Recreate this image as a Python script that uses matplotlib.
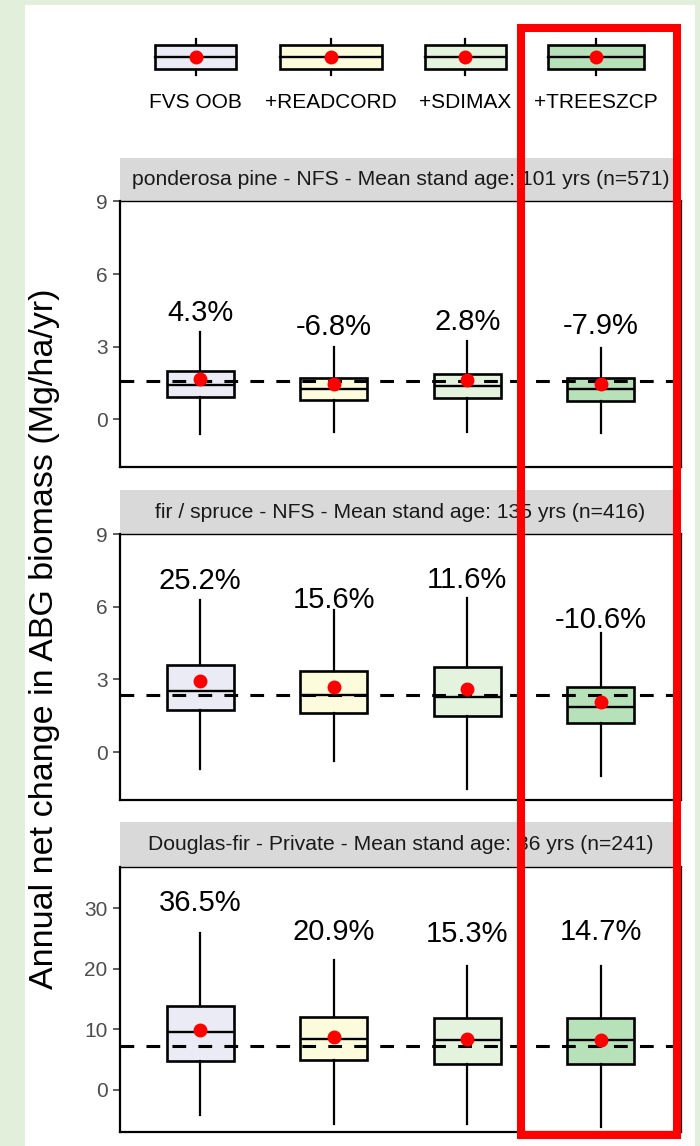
import matplotlib.pyplot as plt
from matplotlib.patches import Rectangle
from matplotlib.lines import Line2D

plt.rcParams['font.family'] = ['Liberation Sans', 'DejaVu Sans']

W, H = 700, 1146

# model runs and their fill colours
models = ['FVS OOB', '+READCORD', '+SDIMAX', '+TREESZCP']
fills = ['#EBEBF5', '#FCFCDD', '#E3F3DD', '#B7E1B8']

strip_titles = [
    'ponderosa pine - NFS - Mean stand age: 101 yrs (n=571)',
    'fir / spruce - NFS - Mean stand age: 135 yrs (n=416)',
    'Douglas-fir - Private - Mean stand age: 36 yrs (n=241)',
]

# panel 1: ponderosa pine
pp_whislo = [-0.61, -0.54, -0.54, -0.56]
pp_q1 = [0.92, 0.80, 0.88, 0.77]
pp_med = [1.43, 1.24, 1.38, 1.24]
pp_q3 = [2.01, 1.71, 1.87, 1.71]
pp_whishi = [3.60, 3.00, 3.25, 2.96]
pp_mean = [1.65, 1.47, 1.62, 1.45]
pp_obs = 1.58
pp_pct = ['4.3%', '-6.8%', '2.8%', '-7.9%']
pp_lab_y = [4.39, 3.81, 4.04, 3.86]

# panel 2: fir / spruce
fs_whislo = [-0.71, -0.37, -1.50, -0.98]
fs_q1 = [1.76, 1.61, 1.48, 1.19]
fs_med = [2.52, 2.34, 2.26, 1.88]
fs_q3 = [3.61, 3.34, 3.50, 2.68]
fs_whishi = [6.27, 5.85, 6.37, 4.90]
fs_mean = [2.93, 2.71, 2.61, 2.09]
fs_obs = 2.34
fs_pct = ['25.2%', '15.6%', '11.6%', '-10.6%']
fs_lab_y = [7.06, 6.28, 7.10, 5.45]

# panel 3: Douglas-fir
df_whislo = [-4.20, -5.55, -5.55, -6.05]
df_q1 = [4.70, 4.90, 4.30, 4.20]
df_med = [9.50, 8.46, 8.20, 8.20]
df_q3 = [13.9, 12.0, 11.9, 11.9]
df_whishi = [25.9, 21.4, 20.5, 20.5]
df_mean = [9.90, 8.77, 8.36, 8.32]
df_obs = 7.25
df_pct = ['36.5%', '20.9%', '15.3%', '14.7%']
df_lab_y = [30.8, 26.0, 25.8, 26.0]

panels = [
    (pp_whislo, pp_q1, pp_med, pp_q3, pp_whishi, pp_mean, pp_obs, pp_pct, pp_lab_y),
    (fs_whislo, fs_q1, fs_med, fs_q3, fs_whishi, fs_mean, fs_obs, fs_pct, fs_lab_y),
    (df_whislo, df_q1, df_med, df_q3, df_whishi, df_mean, df_obs, df_pct, df_lab_y),
]
yticks = [[0, 3, 6, 9], [0, 3, 6, 9], [0, 10, 20, 30]]
ylims = [(-1.97, 9.0), (-1.97, 8.97), (-6.95, 36.9)]

# pixel layout: (strip top, axes top, axes bottom)
rows = [(158, 201.5, 467), (490, 534, 800), (822, 866.5, 1132)]
ax_left, ax_right = 120, 681


def px_axes(x0, y0, x1, y1, **kw):
    return fig.add_axes([x0 / W, 1 - y1 / H, (x1 - x0) / W, (y1 - y0) / H], **kw)


fig = plt.figure(figsize=(W / 100, H / 100), dpi=100, facecolor='#E2EFDA')

# overlay for background and legend
ov = px_axes(0, 0, W, H)
ov.set_xlim(0, W)
ov.set_ylim(H, 0)
ov.axis('off')
ov.add_patch(Rectangle((25, 5), 670, H, facecolor='white', edgecolor='none', zorder=0))

for i, (whislo, q1, med, q3, whishi, mean, obs, pct, lab_y) in enumerate(panels):
    st, at, ab = rows[i]
    sax = px_axes(ax_left, st, ax_right, at)
    sax.set_facecolor('#D9D9D9')
    sax.set_xticks([])
    sax.set_yticks([])
    for s in sax.spines.values():
        s.set_visible(False)
    sax.text(0.5, 0.5, strip_titles[i], ha='center', va='center', fontsize=15.2,
             color='#1A1A1A', transform=sax.transAxes)

    ax = px_axes(ax_left, at, ax_right, ab)
    stats = []
    for k in range(len(models)):
        stats.append(dict(whislo=whislo[k], q1=q1[k], med=med[k], q3=q3[k],
                          whishi=whishi[k], mean=mean[k], fliers=[]))
    bp = ax.bxp(stats, positions=range(1, 5), widths=0.5, patch_artist=True,
                showcaps=False, showmeans=True,
                boxprops=dict(edgecolor='black', linewidth=1.9),
                whiskerprops=dict(color='black', linewidth=1.6),
                medianprops=dict(color='black', linewidth=1.7),
                meanprops=dict(marker='o', markerfacecolor='red', markeredgecolor='red',
                               markersize=9))
    for patch, c in zip(bp['boxes'], fills):
        patch.set_facecolor(c)
    for m in bp['means']:
        m.set_zorder(5)
    ax.axhline(obs, color='black', linewidth=2.2, dashes=(4.5, 4), zorder=4)
    for k in range(len(models)):
        ax.text(k + 1, lab_y[k], pct[k], ha='center', va='center', fontsize=21,
                color='black')
    ax.set_xlim(0.4, 4.6)
    ax.set_ylim(*ylims[i])
    ax.set_xticks([])
    ax.set_yticks(yticks[i])
    ax.tick_params(axis='y', length=5, width=1.1, color='#333333',
                   labelcolor='#4D4D4D', labelsize=15, pad=4)
    for side in ['left', 'bottom', 'right']:
        ax.spines[side].set_linewidth(1.6)
    ax.spines['top'].set_linewidth(1.0)

# legend keys
key_x = [195.5, 330.6, 465.0, 596.0]
key_w = [81, 102, 81, 96]
for cx, kw, c, name in zip(key_x, key_w, fills, models):
    ov.add_line(Line2D([cx, cx], [39, 75], color='black', linewidth=1.6, zorder=2))
    ov.add_patch(Rectangle((cx - kw / 2, 45), kw, 23.5, facecolor=c, edgecolor='black',
                           linewidth=1.9, zorder=3))
    ov.add_line(Line2D([cx - kw / 2, cx + kw / 2], [57, 57], color='black', linewidth=1.7,
                       zorder=4))
    ov.plot([cx], [57], 'o', color='red', markersize=9, zorder=5)
    ov.text(cx, 103, name, ha='center', va='center', fontsize=15, color='black')

# highlight around the last model, drawn on top of everything
top = px_axes(0, 0, W, H)
top.set_xlim(0, W)
top.set_ylim(H, 0)
top.axis('off')
top.patch.set_visible(False)
top.add_patch(Rectangle((521, 28), 156, 1107, facecolor='none', edgecolor='#FF0000',
                        linewidth=5.8))

fig.text(45 / W, 1 - 639 / H, 'Annual net change in ABG biomass (Mg/ha/yr)', rotation=90,
         ha='center', va='center', fontsize=24.5, color='black')

fig.savefig('out.png', dpi=100, facecolor=fig.get_facecolor())
